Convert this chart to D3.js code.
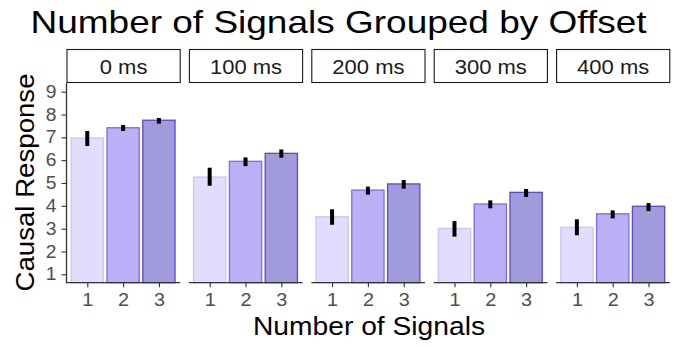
<!DOCTYPE html>
<html><head><meta charset="utf-8">
<script src="https://cdn.jsdelivr.net/npm/d3@7"></script>
<style>body{margin:0;background:#fff}</style>
</head><body>
<svg id="c" width="681" height="347"></svg>
<script>
const offsets = ["0 ms","100 ms","200 ms","300 ms","400 ms"];
const signals = ["1","2","3"];
const means = [
  [6.97, 7.42, 7.75],
  [5.26, 5.95, 6.30],
  [3.52, 4.69, 4.96],
  [3.01, 4.08, 4.59],
  [3.06, 3.65, 3.98]
];
const errLow = [
  [6.62, 7.28, 7.60],
  [4.88, 5.74, 6.11],
  [3.17, 4.49, 4.75],
  [2.65, 3.89, 4.39],
  [2.71, 3.45, 3.77]
];
const errHigh = [
  [7.28, 7.54, 7.85],
  [5.67, 6.12, 6.47],
  [3.85, 4.84, 5.13],
  [3.33, 4.24, 4.74],
  [3.41, 3.80, 4.12]
];
const yTicks = [1,2,3,4,5,6,7,8,9];
const fills = ["#e1ddfc","#b9b0f5","#a29bdb"];
const strokes = ["#cbc4f9","#7d6bef","#5b48d2"];

const svg = d3.select("#c");
const font = "Liberation Sans, Arial, sans-serif";
const panelTop = 83, panelBottom = 282.7;
const panelLeft0 = 66.5, panelW = 113.2, panelStep = 122.4;
const y = d3.scaleLinear().domain([1,9]).range([274.3, 91.7]);

function stretch(sel, k) {
  sel.each(function() {
    const w = this.getComputedTextLength();
    d3.select(this).attr("textLength", w*k).attr("lengthAdjust","spacingAndGlyphs");
  });
}

const title = svg.append("text").attr("x", 30.5).attr("y", 32.5).attr("text-anchor","start")
  .attr("font-family", font).attr("font-size", 31.5).attr("fill","#000")
  .text("Number of Signals Grouped by Offset");
title.attr("textLength", 616).attr("lengthAdjust","spacingAndGlyphs");

const yAxisG = svg.append("g").attr("transform", `translate(${panelLeft0},0)`);
yAxisG.call(d3.axisLeft(y).tickValues(yTicks).tickSize(5).tickPadding(5));
yAxisG.select(".domain").remove();
yAxisG.selectAll(".tick line").attr("stroke","#333").attr("stroke-width",1.1);
yAxisG.selectAll(".tick text").attr("font-family",font).attr("font-size",17.5).attr("fill","#4d4d4d")
  .call(stretch, 1.1);
svg.append("line").attr("x1",panelLeft0).attr("x2",panelLeft0).attr("y1",panelTop).attr("y2",panelBottom+0.6)
  .attr("stroke","#333").attr("stroke-width",1.3);

svg.append("text").attr("transform","translate(33.5,182.5) rotate(-90)").attr("text-anchor","middle")
  .attr("font-family",font).attr("font-size",26).attr("fill","#000").text("Causal Response")
  .attr("textLength", 218).attr("lengthAdjust","spacingAndGlyphs");

offsets.forEach((off, i) => {
  const left = panelLeft0 + i*panelStep;
  const xp = d3.scalePoint().domain(signals).range([left+panelW*0.58/3.16, left+panelW-panelW*0.58/3.16]);
  const g = svg.append("g");
  g.append("rect").attr("x", left+0.5).attr("y", 49.5).attr("width", panelW).attr("height", 33)
    .attr("fill","#fff").attr("stroke","#1a1a1a").attr("stroke-width",1.1);
  g.append("text").attr("x", left+panelW/2+0.5).attr("y", 73.5).attr("text-anchor","middle")
    .attr("font-family",font).attr("font-size",20).attr("fill","#1a1a1a").text(off)
    .call(stretch, 1.1);
  const bw = xp.step()*0.9;
  signals.forEach((s, j) => {
    const cx = xp(s);
    g.append("rect").attr("x", cx-bw/2).attr("y", y(means[i][j])).attr("width", bw)
      .attr("height", panelBottom - y(means[i][j])).attr("fill", fills[j])
      .attr("stroke", strokes[j]).attr("stroke-width",1.3);
    g.append("line").attr("x1",cx).attr("x2",cx).attr("y1",y(errHigh[i][j])).attr("y2",y(errLow[i][j]))
      .attr("stroke","#000").attr("stroke-width",4);
  });
  const ax = svg.append("g").attr("transform",`translate(0,${panelBottom})`).call(d3.axisBottom(xp).tickSize(4.5).tickPadding(6.5));
  ax.select(".domain").remove();
  ax.selectAll(".tick line").attr("stroke","#333").attr("stroke-width",1.1);
  ax.selectAll(".tick text").attr("font-family",font).attr("font-size",18).attr("fill","#4d4d4d")
    .call(stretch, 1.1);
  svg.append("line").attr("x1",left).attr("x2",left+panelW+0.5).attr("y1",panelBottom).attr("y2",panelBottom)
    .attr("stroke","#333").attr("stroke-width",1.3);
});

svg.append("text").attr("x", 369).attr("y", 334.5).attr("text-anchor","middle")
  .attr("font-family",font).attr("font-size",25).attr("fill","#000").text("Number of Signals")
  .attr("textLength", 232).attr("lengthAdjust","spacingAndGlyphs");
</script>
</body></html>
